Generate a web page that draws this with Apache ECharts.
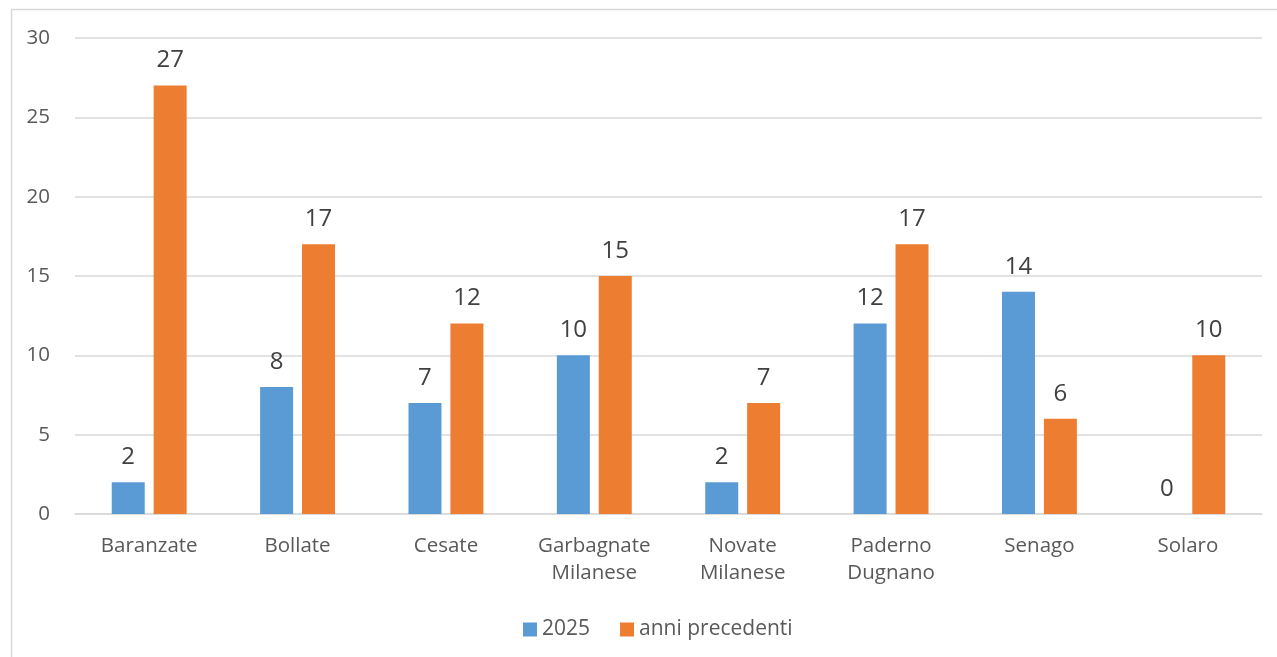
<!DOCTYPE html>
<html>
<head>
<meta charset="utf-8">
<script src="https://cdn.jsdelivr.net/npm/echarts@6/dist/echarts.min.js"></script>
<style>html,body{margin:0;padding:0;background:#fff}#c{width:1277px;height:657px}</style>
</head>
<body>
<div id="c"></div>
<script>
const categories = ['Baranzate','Bollate','Cesate','Garbagnate\nMilanese','Novate\nMilanese','Paderno\nDugnano','Senago','Solaro'];
const series2025 = [2, 8, 7, 10, 2, 12, 14, 0];
const seriesPrev = [27, 17, 12, 15, 7, 17, 6, 10];
const yTicks = [0, 5, 10, 15, 20, 25, 30];

const chart = echarts.init(document.getElementById('c'));
const font = '"Open Sans", sans-serif';
chart.setOption({
  animation: false,
  backgroundColor: '#fff',
  textStyle: { fontFamily: font },
  graphic: [{
    type: 'rect', left: 9, top: 7, shape: { width: 1300, height: 700 },
    style: { fill: 'none', stroke: '#d9d9d9', lineWidth: 1.5 }, silent: true
  }],
  grid: { left: 75, right: 15, top: 38, bottom: 143, containLabel: false },
  legend: {
    bottom: 12, left: 518, itemWidth: 14, itemHeight: 14, itemGap: 30,
    icon: 'rect',
    textStyle: { fontSize: 21, color: '#595959', fontFamily: font },
    data: ['2025', 'anni precedenti']
  },
  xAxis: {
    type: 'category', data: categories,
    axisLine: { lineStyle: { color: '#d9d9d9', width: 1.5 } },
    axisTick: { show: false },
    axisLabel: { fontSize: 20.5, color: '#595959', margin: 19, lineHeight: 27, fontFamily: font, interval: 0 }
  },
  yAxis: {
    type: 'value', min: 0, max: 30, interval: 5,
    axisLine: { show: false }, axisTick: { show: false },
    splitLine: { lineStyle: { color: '#d9d9d9', width: 1.5 } },
    axisLabel: { fontSize: 20.5, color: '#595959', margin: 25, fontFamily: font,
      formatter: v => yTicks.includes(v) ? String(v) : '' }
  },
  series: [
    { name: '2025', type: 'bar', data: series2025, barWidth: 33, barGap: '27%',
      itemStyle: { color: '#5b9bd5' },
      label: { show: true, position: 'top', fontSize: 24, color: '#404040', distance: 13, fontFamily: font } },
    { name: 'anni precedenti', type: 'bar', data: seriesPrev, barWidth: 33,
      itemStyle: { color: '#ed7d31' },
      label: { show: true, position: 'top', fontSize: 24, color: '#404040', distance: 13, fontFamily: font } }
  ]
});
</script>
</body>
</html>
